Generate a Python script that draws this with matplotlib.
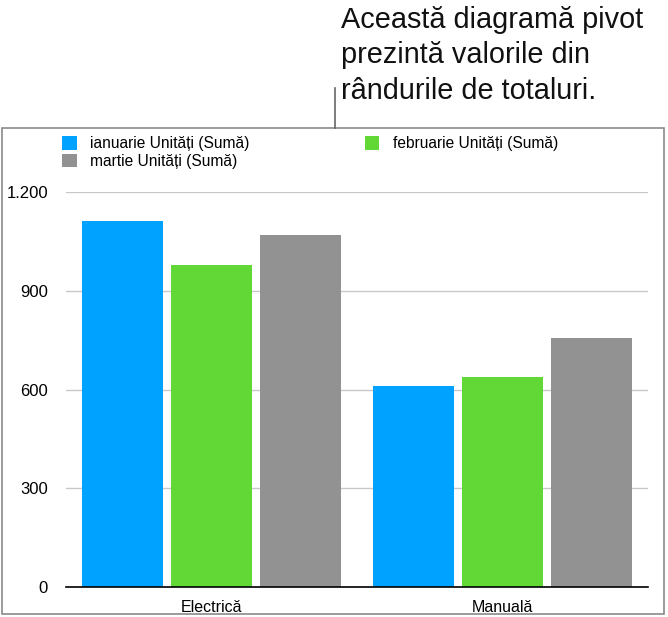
import matplotlib
matplotlib.use("Agg")
import matplotlib.pyplot as plt
from matplotlib.patches import Rectangle
from matplotlib.lines import Line2D
from matplotlib.ticker import FuncFormatter

plt.rcParams['font.family'] = ['Liberation Sans', 'DejaVu Sans']

# date
categorii = ["Electrică", "Manuală"]
serii = ["ianuarie Unități (Sumă)", "februarie Unități (Sumă)", "martie Unități (Sumă)"]
ianuarie = [1113, 611]
februarie = [979, 637]
martie = [1069, 755]
culori = ["#00A2FF", "#61D836", "#929292"]
valori_y = [0, 300, 600, 900, 1200]

W, H = 668, 617
fig = plt.figure(figsize=(W / 100, H / 100), dpi=100)

# axa principala
ax = fig.add_axes([66 / W, (H - 587) / H, (648 - 66) / W, (587 - 192) / H])
latime = 0.278
pas = 0.306
x = range(len(categorii))
bare = []
for i, (vals, c) in enumerate(zip([ianuarie, februarie, martie], culori)):
    b = ax.bar([k + (i - 1) * pas for k in x], vals, width=latime, color=c,
               label=serii[i], zorder=3)
    bare.append(b)

ax.set_xlim(-0.5, 1.5)
ax.set_ylim(0, 1200)
ax.set_yticks(valori_y)
ax.yaxis.set_major_formatter(FuncFormatter(lambda v, p: f"{int(v):,}".replace(",", ".")))
ax.set_xticks(list(x))
ax.set_xticklabels(categorii)
ax.tick_params(axis='y', length=0, pad=13, labelsize=12)
ax.tick_params(axis='x', length=0, pad=9, labelsize=11.5)
for s in ["top", "right", "left"]:
    ax.spines[s].set_visible(False)
ax.spines["bottom"].set_color("black")
ax.spines["bottom"].set_linewidth(1.2)
ax.spines["bottom"].set_zorder(4)
ax.grid(axis='y', color="#c8c8c8", linewidth=1, zorder=0)
ax.set_axisbelow(True)

# legenda (ordine pe randuri)
leg = fig.legend([bare[0], bare[2], bare[1]], [serii[0], serii[2], serii[1]],
                 ncol=2, loc="upper left", bbox_to_anchor=(56 / W, (H - 130) / H),
                 frameon=False, fontsize=11.2, handlelength=0.95, handleheight=0.95,
                 handletextpad=0.85, columnspacing=7.4, labelspacing=0.15,
                 borderaxespad=0)

# chenarul graficului
fig.add_artist(Rectangle((2 / W, (H - 614) / H), (664 - 2) / W, (614 - 128) / H,
                         transform=fig.transFigure, fill=False,
                         edgecolor="#8a8a8a", linewidth=1.2))

# text explicativ si linia de legatura
fig.add_artist(Line2D([335 / W, 335 / W], [(H - 128) / H, (H - 88) / H],
                      transform=fig.transFigure, color="#666666", linewidth=1.2))
fig.text(341 / W, (H - 6) / H,
         "Această diagramă pivot\nprezintă valorile din\nrândurile de totaluri.",
         fontsize=20.8, va="top", ha="left", linespacing=1.34, color="#111111")

fig.savefig("out.png", dpi=100)
